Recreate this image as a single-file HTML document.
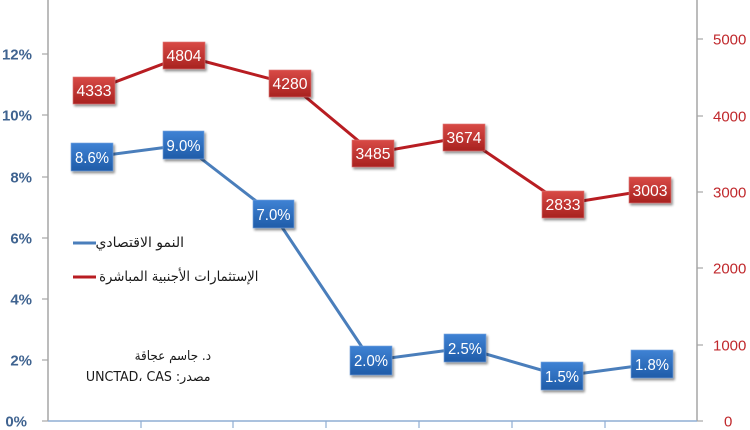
<!DOCTYPE html>
<html><head><meta charset="utf-8"><style>
html,body{margin:0;padding:0;background:#fff;}
#c{position:relative;width:750px;height:430px;overflow:hidden;background:#fff;}
svg{position:absolute;left:0;top:0;}
.ar{position:absolute;direction:rtl;font-family:"DejaVu Sans",sans-serif;color:#1a1a1a;white-space:nowrap;text-align:right;transform-origin:100% 50%;}
</style></head><body><div id="c">
<svg width="750" height="430" viewBox="0 0 750 430" xmlns="http://www.w3.org/2000/svg">
<defs>
<linearGradient id="rg" x1="0" y1="0" x2="0" y2="1"><stop offset="0" stop-color="#d84a46"/><stop offset="1" stop-color="#a8221f"/></linearGradient>
<linearGradient id="bg" x1="0" y1="0" x2="0" y2="1"><stop offset="0" stop-color="#3f82d4"/><stop offset="1" stop-color="#1f5ca8"/></linearGradient>
<filter id="sh" x="-20%" y="-20%" width="150%" height="160%"><feGaussianBlur in="SourceAlpha" stdDeviation="1.2"/><feOffset dx="1.5" dy="2" result="o"/><feComponentTransfer><feFuncA type="linear" slope="0.45"/></feComponentTransfer><feMerge><feMergeNode/><feMergeNode in="SourceGraphic"/></feMerge></filter>
</defs>
<!-- axes -->
<line x1="48" y1="0" x2="48" y2="421" stroke="#a6a6a6" stroke-width="1.5"/>
<line x1="697" y1="0" x2="697" y2="421" stroke="#a6a6a6" stroke-width="1.5"/>
<line x1="48" y1="421" x2="697" y2="421" stroke="#8fadd3" stroke-width="1.5"/>
<g stroke="#a6a6a6" stroke-width="1.2">
<line x1="42" y1="54" x2="48" y2="54"/><line x1="42" y1="115" x2="48" y2="115"/><line x1="42" y1="177" x2="48" y2="177"/><line x1="42" y1="238" x2="48" y2="238"/><line x1="42" y1="299" x2="48" y2="299"/><line x1="42" y1="360" x2="48" y2="360"/><line x1="42" y1="421" x2="48" y2="421"/>
<line x1="697" y1="39" x2="703" y2="39"/><line x1="697" y1="116" x2="703" y2="116"/><line x1="697" y1="192" x2="703" y2="192"/><line x1="697" y1="268" x2="703" y2="268"/><line x1="697" y1="345" x2="703" y2="345"/><line x1="697" y1="421" x2="703" y2="421"/>
</g>
<g stroke="#8fadd3" stroke-width="1.2">
<line x1="141" y1="421" x2="141" y2="428"/><line x1="233" y1="421" x2="233" y2="428"/><line x1="326" y1="421" x2="326" y2="428"/><line x1="419" y1="421" x2="419" y2="428"/><line x1="512" y1="421" x2="512" y2="428"/><line x1="605" y1="421" x2="605" y2="428"/>
</g>
<!-- left labels -->
<g font-family="Liberation Sans, sans-serif" font-weight="bold" font-size="15" fill="#3f6390" text-anchor="end">
<text x="32" y="59.5">12%</text><text x="32" y="120.5">10%</text><text x="32" y="182.5">8%</text><text x="32" y="243.5">6%</text><text x="32" y="304.5">4%</text><text x="32" y="365.5">2%</text><text x="27" y="426.5">0%</text>
</g>
<!-- right labels -->
<g font-family="Liberation Sans, sans-serif" font-size="15" fill="#c0282c" text-anchor="start">
<text x="713" y="44.5">5000</text><text x="713" y="121.5">4000</text><text x="713" y="197.5">3000</text><text x="713" y="273.5">2000</text><text x="713" y="350.5">1000</text><text x="724" y="426.5">0</text>
</g>
<!-- series lines -->
<polyline points="94,90 184,56 290,84 373,153 464,137 563,204 650,190" fill="none" stroke="#b81d22" stroke-width="3" stroke-linejoin="round"/>
<polyline points="92,157 183.5,145 273.5,214.5 371,360.5 465,348 562,376 652,364" fill="none" stroke="#4a7ebb" stroke-width="3" stroke-linejoin="round"/>
<!-- legend lines -->
<line x1="73" y1="243" x2="96" y2="243" stroke="#4a7ebb" stroke-width="3"/>
<line x1="73" y1="277" x2="96" y2="277" stroke="#b81d22" stroke-width="3"/>
<!-- labels -->
<g filter="url(#sh)">
<rect x="73" y="77" width="42" height="27" fill="url(#rg)" stroke="#e07a78" stroke-width="0.6"/>
<rect x="163" y="42" width="42" height="27" fill="url(#rg)" stroke="#e07a78" stroke-width="0.6"/>
<rect x="269" y="70" width="42" height="27" fill="url(#rg)" stroke="#e07a78" stroke-width="0.6"/>
<rect x="352" y="140" width="42" height="27" fill="url(#rg)" stroke="#e07a78" stroke-width="0.6"/>
<rect x="443" y="124" width="42" height="27" fill="url(#rg)" stroke="#e07a78" stroke-width="0.6"/>
<rect x="542" y="191" width="42" height="27" fill="url(#rg)" stroke="#e07a78" stroke-width="0.6"/>
<rect x="629" y="177" width="42" height="26" fill="url(#rg)" stroke="#e07a78" stroke-width="0.6"/>
<rect x="71" y="143" width="42" height="28" fill="url(#bg)" stroke="#7aa6e0" stroke-width="0.6"/>
<rect x="163" y="131" width="41" height="28" fill="url(#bg)" stroke="#7aa6e0" stroke-width="0.6"/>
<rect x="253" y="200" width="41" height="28" fill="url(#bg)" stroke="#7aa6e0" stroke-width="0.6"/>
<rect x="350" y="346" width="42" height="29" fill="url(#bg)" stroke="#7aa6e0" stroke-width="0.6"/>
<rect x="444" y="334" width="42" height="28" fill="url(#bg)" stroke="#7aa6e0" stroke-width="0.6"/>
<rect x="541" y="362" width="42" height="28" fill="url(#bg)" stroke="#7aa6e0" stroke-width="0.6"/>
<rect x="631" y="350" width="42" height="28" fill="url(#bg)" stroke="#7aa6e0" stroke-width="0.6"/>
</g>
<g font-family="Liberation Sans, sans-serif" font-size="16" fill="#fff" text-anchor="middle">
<text x="94" y="96" textLength="35" lengthAdjust="spacingAndGlyphs">4333</text>
<text x="184" y="61" textLength="35" lengthAdjust="spacingAndGlyphs">4804</text>
<text x="290" y="89" textLength="35" lengthAdjust="spacingAndGlyphs">4280</text>
<text x="373" y="159" textLength="35" lengthAdjust="spacingAndGlyphs">3485</text>
<text x="464" y="143" textLength="35" lengthAdjust="spacingAndGlyphs">3674</text>
<text x="563" y="210" textLength="35" lengthAdjust="spacingAndGlyphs">2833</text>
<text x="650" y="196" textLength="35" lengthAdjust="spacingAndGlyphs">3003</text>
<text x="92" y="163" textLength="34" lengthAdjust="spacingAndGlyphs">8.6%</text>
<text x="183.5" y="151" textLength="34" lengthAdjust="spacingAndGlyphs">9.0%</text>
<text x="273.5" y="220" textLength="34" lengthAdjust="spacingAndGlyphs">7.0%</text>
<text x="371" y="366" textLength="34" lengthAdjust="spacingAndGlyphs">2.0%</text>
<text x="465" y="354" textLength="34" lengthAdjust="spacingAndGlyphs">2.5%</text>
<text x="562" y="382" textLength="34" lengthAdjust="spacingAndGlyphs">1.5%</text>
<text x="652" y="370" textLength="34" lengthAdjust="spacingAndGlyphs">1.8%</text>
</g>
</svg>
<div class="ar" style="right:566px;top:235px;font-size:14px;">النمو الاقتصادي</div>
<div class="ar" style="right:492px;top:269px;font-size:14px;transform:scaleX(0.94);">الإستثمارات الأجنبية المباشرة</div>
<div class="ar" style="right:539px;top:349px;font-size:13px;transform:scaleX(0.92);">د. جاسم عجاقة</div>
<div class="ar" style="right:539px;top:370px;font-size:13px;transform:scaleX(0.97);">مصدر: UNCTAD، CAS</div>
</div></body></html>
